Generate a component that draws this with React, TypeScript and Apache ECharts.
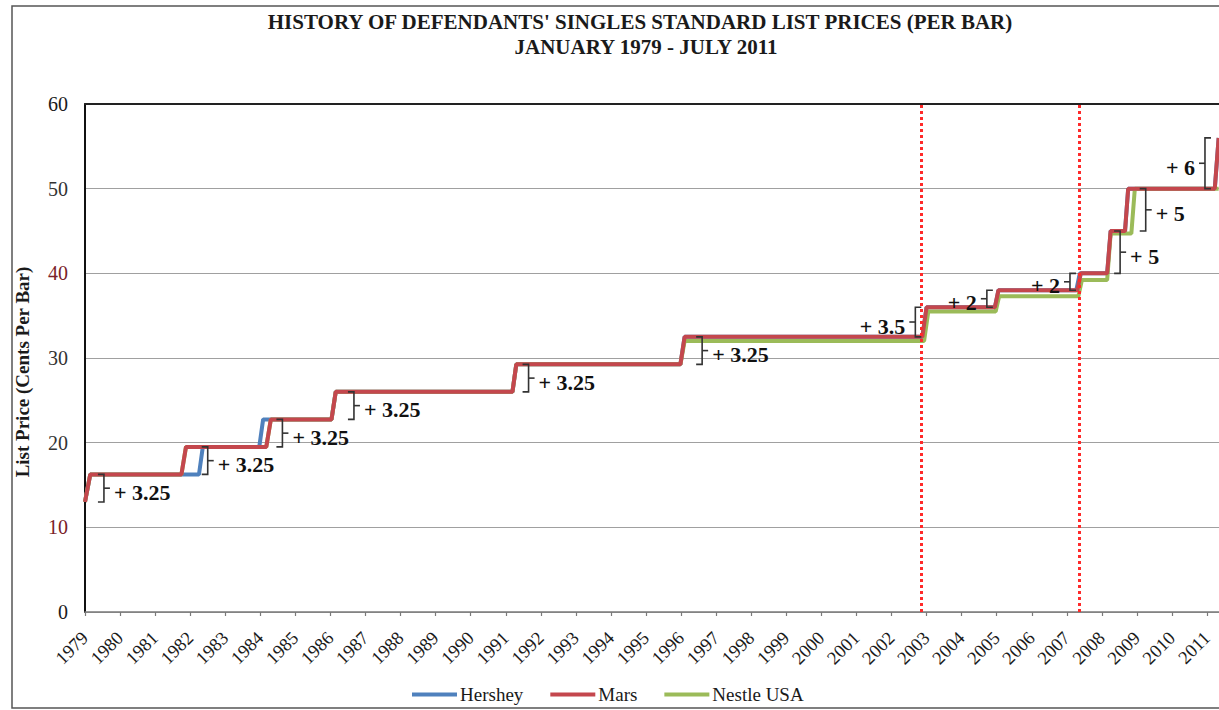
import React, { useEffect, useRef } from "react";
import * as echarts from "echarts";

// ---- Data ----
const X_MIN = 1979;
const X_MAX = 2011.34;
const Y_TICKS = [0, 10, 20, 30, 40, 50, 60];

const hersheyX = [1979.0, 1979.15, 1982.25, 1982.36, 1983.97, 1984.08, 1986.03, 1986.15, 1991.19, 1991.3, 1995.98, 1996.1, 2002.88, 2003.0, 2004.95, 2005.05, 2007.27, 2007.37, 2008.15, 2008.25, 2008.66, 2008.75, 2011.22, 2011.33];
const hersheyY = [13, 16.25, 16.25, 19.5, 19.5, 22.75, 22.75, 26, 26, 29.25, 29.25, 32.5, 32.5, 36, 36, 38, 38, 40, 40, 45, 45, 50, 50, 56];

const marsX = [1979.0, 1979.15, 1981.75, 1981.88, 1984.17, 1984.3, 1986.03, 1986.15, 1991.19, 1991.3, 1995.98, 1996.1, 2002.88, 2003.0, 2004.95, 2005.05, 2007.3, 2007.4, 2008.15, 2008.25, 2008.66, 2008.75, 2011.22, 2011.33];
const marsY = [13, 16.25, 16.25, 19.5, 19.5, 22.75, 22.75, 26, 26, 29.25, 29.25, 32.5, 32.5, 36, 36, 38, 38, 40, 40, 45, 45, 50, 50, 56];

const nestleX = [1979.0, 1979.15, 1981.75, 1981.88, 1984.17, 1984.3, 1986.03, 1986.15, 1991.19, 1991.3, 1995.98, 1996.1, 2002.93, 2003.05, 2004.97, 2005.07, 2007.33, 2007.43, 2008.15, 2008.25, 2008.84, 2008.94, 2011.33];
const nestleY = [13, 16.25, 16.25, 19.5, 19.5, 22.75, 22.75, 26, 26, 29.25, 29.25, 32, 32, 35.5, 35.5, 37.3, 37.3, 39.2, 39.2, 44.7, 44.7, 50, 50];

// Vertical dotted reference lines (year positions)
const refLines = [2002.84, 2007.35];

// Price-increase annotations
const annX = [1979.54, 1982.5, 1984.63, 1986.67, 1991.65, 1996.6, 2002.68, 2004.72, 2007.09, 2008.52, 2009.25, 2010.94];
const annLow = [13, 16.25, 19.5, 22.75, 26, 29.25, 32.5, 36, 38, 40, 45, 50];
const annHigh = [16.25, 19.5, 22.75, 26, 29.25, 32.5, 36, 38, 40, 45, 50, 56];
const annSide = [1, 1, 1, 1, 1, 1, -1, -1, -1, 1, 1, -1]; // 1 = label right, -1 = label left
const annLabels = ["+ 3.25", "+ 3.25", "+ 3.25", "+ 3.25", "+ 3.25", "+ 3.25", "+ 3.5", "+ 2", "+ 2", "+ 5", "+ 5", "+ 6"];

const SERIF = "'Liberation Serif', 'Times New Roman', serif";

const zip = (xs: number[], ys: number[]) => xs.map((x, i) => [x, ys[i]]);

export default function App() {
  const ref = useRef<HTMLDivElement>(null);
  useEffect(() => {
    if (!ref.current) return;
    const chart = echarts.init(ref.current, null, { renderer: "svg" });
    const yColors: Record<number, string> = { 0: "#1a1a1a", 10: "#7a2228", 20: "#333", 30: "#333", 40: "#7a2228", 50: "#333", 60: "#1a1a1a" };
    chart.setOption({
      animation: false,
      backgroundColor: "#fff",
      grid: { left: 85, right: 0, top: 104, bottom: 98 },
      graphic: [
        { type: "rect", z: -10, shape: { x: 12, y: 6, width: 1400, height: 702 }, style: { fill: "none", stroke: "#555", lineWidth: 1.5 } },
        { type: "text", x: 640, y: 22, style: { text: "HISTORY OF DEFENDANTS' SINGLES STANDARD LIST PRICES (PER BAR)", textAlign: "center", textVerticalAlign: "middle", font: `bold 21px ${SERIF}`, fill: "#1a1a1a" } },
        { type: "text", x: 646, y: 47, style: { text: "JANUARY 1979 - JULY 2011", textAlign: "center", textVerticalAlign: "middle", font: `bold 21px ${SERIF}`, fill: "#1a1a1a" } },
        { type: "text", x: 22, y: 372, rotation: Math.PI / 2, style: { text: "List Price (Cents Per Bar)", textAlign: "center", textVerticalAlign: "middle", font: `bold 19px ${SERIF}`, fill: "#1a1a1a" } },
      ],
      legend: {
        left: 407,
        top: 680,
        icon: "rect",
        itemWidth: 45,
        itemHeight: 4,
        itemGap: 27,
        data: ["Hershey", "Mars", "Nestle USA"],
        textStyle: { fontFamily: SERIF, fontSize: 19, color: "#1a1a1a", padding: [0, 0, 0, -2] },
      },
      xAxis: [
        {
          type: "value",
          min: X_MIN,
          max: X_MAX,
          interval: 1,
          axisLine: { show: true, lineStyle: { color: "#7a7a7a", width: 1.5 } },
          axisTick: { show: true, length: 4, lineStyle: { color: "#7a7a7a", width: 1.2 } },
          splitLine: { show: false },
          axisLabel: {
            rotate: 45,
            margin: 23,
            fontFamily: SERIF,
            fontSize: 18.5,
            color: "#1a1a1a",
            showMaxLabel: false,
            formatter: (v: number) => (Number.isInteger(v) ? String(v) : ""),
          },
        },
        {
          type: "value",
          position: "top",
          min: X_MIN,
          max: X_MAX,
          axisLine: { show: true, lineStyle: { color: "#222", width: 2 } },
          axisTick: { show: false },
          axisLabel: { show: false },
          splitLine: { show: false },
        },
      ],
      yAxis: {
        type: "value",
        min: 0,
        max: 60,
        interval: 10,
        axisLine: { show: true, lineStyle: { color: "#111", width: 2 } },
        axisTick: { show: false },
        splitLine: { show: true, lineStyle: { color: "#a0a0a0", width: 1 } },
        axisLabel: {
          margin: 17,
          fontFamily: SERIF,
          fontSize: 20,
          formatter: (v: number) => (Y_TICKS.includes(v) ? `{c${v}|${v}}` : ""),
          rich: Object.fromEntries(Y_TICKS.map((t) => [`c${t}`, { color: yColors[t], fontFamily: SERIF, fontSize: 20 }])),
        },
      },
      series: [
        {
          name: "Hershey",
          type: "line",
          data: zip(hersheyX, hersheyY),
          symbol: "none",
          z: 2,
          color: "#4F81BD",
          lineStyle: { width: 4, color: "#4F81BD" },
        },
        {
          name: "Nestle USA",
          type: "line",
          data: zip(nestleX, nestleY),
          symbol: "none",
          z: 3,
          color: "#9BBB59",
          lineStyle: { width: 4, color: "#9BBB59" },
        },
        {
          name: "Mars",
          type: "line",
          data: zip(marsX, marsY),
          symbol: "none",
          z: 4,
          color: "#C4474D",
          lineStyle: { width: 4, color: "#C4474D" },
          markLine: {
            silent: true,
            symbol: "none",
            label: { show: false },
            lineStyle: { type: [3, 3], width: 3, color: "#ff2a2a" },
            data: refLines.map((x) => ({ xAxis: x })),
          },
        },
        {
          name: "annotations",
          type: "custom",
          z: 6,
          clip: false,
          data: annX.map((x, i) => [x, annLow[i], annHigh[i], annSide[i]]),
          encode: { x: 0, y: [1, 2] },
          renderItem: (params: any, api: any) => {
            const x = api.value(0);
            const lo = api.value(1);
            const hi = api.value(2);
            const side = api.value(3);
            const top = api.coord([x, hi]);
            const bot = api.coord([x, lo]);
            const px = top[0];
            const midY = (top[1] + bot[1]) / 2;
            const d = side > 0 ? -1 : 1;
            const hook = 6;
            const tick = 6;
            return {
              type: "group",
              children: [
                {
                  type: "polyline",
                  shape: { points: [[px + d * hook, top[1]], [px, top[1]], [px, bot[1]], [px + d * hook, bot[1]]] },
                  style: { stroke: "#333", lineWidth: 1.6, fill: null },
                },
                {
                  type: "line",
                  shape: { x1: px, y1: midY, x2: px - d * tick, y2: midY },
                  style: { stroke: "#333", lineWidth: 1.6 },
                },
                {
                  type: "text",
                  x: px - d * (tick + 4),
                  y: midY + 4,
                  style: {
                    text: annLabels[params.dataIndex],
                    textAlign: side > 0 ? "left" : "right",
                    textVerticalAlign: "middle",
                    font: `bold 22px ${SERIF}`,
                    fill: "#111",
                  },
                },
              ],
            };
          },
        },
      ],
    });
    return () => chart.dispose();
  }, []);
  return <div ref={ref} style={{ position: "absolute", left: 0, top: 0, width: 1219, height: 710, background: "#fff" }} />;
}
